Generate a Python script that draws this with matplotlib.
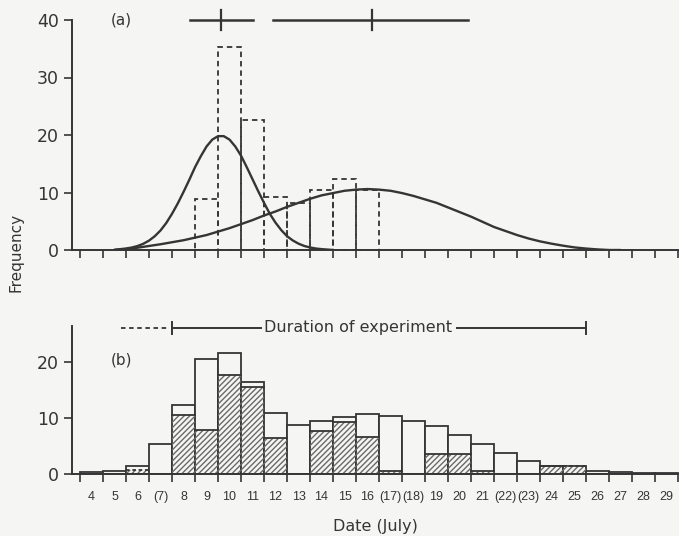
import numpy as np
import matplotlib
matplotlib.use('Agg')
import matplotlib.pyplot as plt

# ---- panel (a): dashed histogram + two fitted curves
days_a = [9, 10, 11, 12, 13, 14, 15, 16]
freq_a = [8.9, 35.3, 22.6, 9.3, 8.2, 10.4, 12.4, 10.4]

# curve samples (x in days)
curve1_x = np.arange(5.0, 14.51, 0.25)
curve1_y = [0.05, 0.15, 0.26, 0.43, 0.69, 1.08, 1.63, 2.4, 3.4, 4.7, 6.3, 8.1,
            10.1, 12.2, 14.4, 16.3, 18.0, 19.2, 19.8, 19.8, 19.2, 18.0, 16.4,
            14.4, 12.3, 10.2, 8.2, 6.3, 4.75, 3.45, 2.4, 1.66, 1.1, 0.7, 0.44,
            0.26, 0.15, 0.08, 0.0]
curve2_x = np.arange(5.0, 27.01, 0.5)
curve2_y = [0.0, 0.15, 0.4, 0.7, 1.0, 1.35, 1.7, 2.15, 2.6, 3.2,
            3.8, 4.5, 5.2, 6.0, 6.7, 7.5, 8.2, 8.9, 9.5, 9.9,
            10.3, 10.5, 10.6, 10.5, 10.3, 9.9, 9.4, 8.8, 8.2, 7.4,
            6.6, 5.8, 4.9, 4.0, 3.3, 2.6, 2.0, 1.5, 1.1, 0.75,
            0.45, 0.25, 0.1, 0.0, 0.0]

# mean and range markers along the top of (a): (start, mean, end)
range1 = (8.28, 9.63, 11.02)
range2 = (11.89, 16.2, 20.37)

# ---- panel (b): daily totals and hatched part
days_b = list(range(4, 30))
total_b = [0.3, 0.5, 1.4, 5.3, 12.4, 20.6, 21.6, 16.5, 10.9, 8.8, 9.4, 10.1, 10.7,
           10.3, 9.4, 8.5, 6.9, 5.3, 3.7, 2.4, 1.5, 1.5, 0.6, 0.3, 0.2, 0.1]
hatched_b = [0, 0, 0.7, 0, 10.5, 7.9, 17.7, 15.6, 6.5, 0, 7.7, 9.2, 6.6,
             0.6, 0, 3.6, 3.5, 0.5, 0, 0, 1.5, 1.5, 0, 0, 0, 0]
dashed_days = [6, 25]
date_labels = ['4', '5', '6', '(7)', '8', '9', '10', '11', '12', '13', '14', '15',
               '16', '(17)', '(18)', '19', '20', '21', '(22)', '(23)', '24', '25',
               '26', '27', '28', '29']

# duration of experiment
dur_pre = (5.3, 7.27)
dur = (7.5, 25.5)

ink = '#353535'
bg = '#f5f5f3'
plt.rcParams['font.family'] = 'DejaVu Sans'

fig = plt.figure(figsize=(6.79, 5.36), dpi=100, facecolor=bg)
W, H = 679, 536
left = 71.5 / W
xlim = (3.13, 29.54)
ax_a = fig.add_axes([left, (H - 250) / H, 1 - left, 230 / H])
ax_b = fig.add_axes([left, (H - 474) / H, 1 - left, 148.5 / H])

for ax in (ax_a, ax_b):
    ax.set_facecolor('none')
    ax.set_xlim(*xlim)
    for s in ('top', 'right'):
        ax.spines[s].set_visible(False)
    for s in ('left', 'bottom'):
        ax.spines[s].set_color(ink)
        ax.spines[s].set_linewidth(1.4)
    ax.set_xticks(np.arange(3.5, 30, 1.0))
    ax.tick_params(axis='both', direction='out', length=6, width=1.2,
                   color=ink, labelcolor=ink)
    ax.tick_params(axis='x', labelbottom=False)

# panel (a)
ax_a.set_ylim(0, 40)
ax_a.set_yticks([0, 10, 20, 30, 40])
ax_a.tick_params(axis='y', labelsize=12.5, pad=3)
ax_a.bar(days_a, freq_a, width=1.0, fill=False, edgecolor=ink, linewidth=1.3,
         linestyle=(0, (3, 2.2)))
ax_a.plot(curve1_x, curve1_y, color=ink, lw=1.7, solid_capstyle='round')
ax_a.plot(curve2_x, curve2_y, color=ink, lw=1.7, solid_capstyle='round')
for r in (range1, range2):
    ax_a.plot([r[0], r[2]], [40, 40], color=ink, lw=1.8, clip_on=False)
    ax_a.plot([r[1], r[1]], [38.3, 41.7], color=ink, lw=1.6, clip_on=False)
ax_a.text(5.3, 40, '(a)', fontsize=11, color=ink, ha='center', va='center')

# panel (b)
ax_b.set_ylim(0, 26.5)
ax_b.set_yticks([0, 10, 20])
ax_b.tick_params(axis='y', labelsize=12.5, pad=3)
ax_b.bar(days_b, total_b, width=1.0, color=bg, edgecolor=ink, linewidth=1.3)
ax_b.bar(days_b, hatched_b, width=1.0, color='none', edgecolor='#6a6a6a',
         linewidth=0, hatch='//////')
for d, h in zip(days_b, hatched_b):
    if h > 0:
        ls = (0, (2, 1.5)) if d in dashed_days else '-'
        ax_b.plot([d - 0.5, d + 0.5], [h, h], color=ink, lw=1.3, linestyle=ls)
ax_b.set_xticks(days_b, minor=True)
ax_b.set_xticklabels(date_labels, minor=True, family='Liberation Sans')
ax_b.tick_params(axis='x', which='minor', length=0, labelsize=9,
                 labelcolor=ink, pad=12)
ax_b.text(5.3, 20.4, '(b)', fontsize=11, color=ink, ha='center', va='center')

yd = 26.1
ax_b.plot(dur_pre, [yd, yd], color=ink, lw=1.3, linestyle=(0, (2.5, 2)), clip_on=False)
ax_b.plot([dur[0], 11.35], [yd, yd], color=ink, lw=1.4, clip_on=False)
ax_b.plot([19.9, dur[1]], [yd, yd], color=ink, lw=1.4, clip_on=False)
for x in dur:
    ax_b.plot([x, x], [yd - 1.1, yd + 1.1], color=ink, lw=1.4, clip_on=False)
ax_b.text(15.6, yd, 'Duration of experiment', fontsize=11.5, color=ink,
          ha='center', va='center')

fig.text(375 / W, 1 - 527 / H, 'Date (July)', fontsize=11.5, color=ink,
         ha='center', va='center')
fig.text(16 / W, 1 - 252 / H, 'Frequency', fontsize=11, color=ink,
         rotation=90, ha='center', va='center')

fig.savefig('out.png', dpi=100, facecolor=bg)
